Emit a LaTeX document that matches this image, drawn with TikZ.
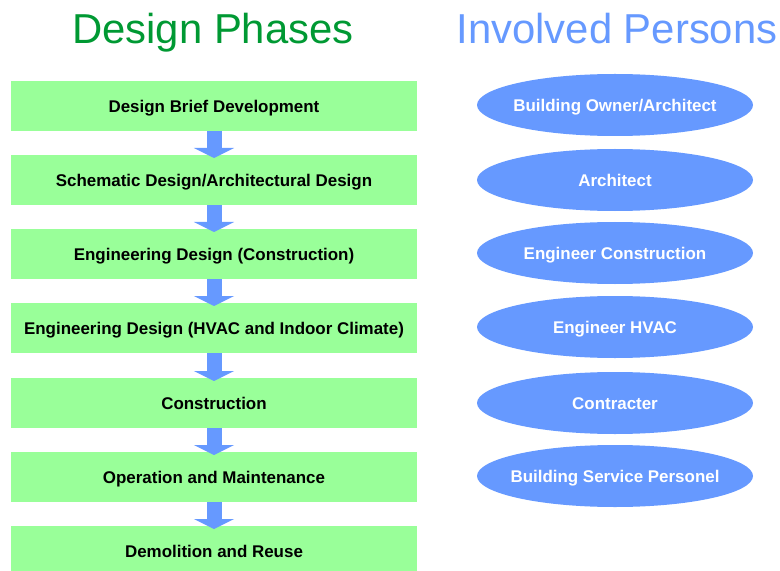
\documentclass[tikz,border=0pt]{standalone}
\usepackage{fontspec}
\setmainfont{Liberation Sans}
\usetikzlibrary{shapes.geometric,arrows.meta}
\definecolor{phasegreen}{HTML}{99FF99}
\definecolor{persblue}{HTML}{6699FF}
\definecolor{titlegreen}{HTML}{009933}
\begin{document}
\begin{tikzpicture}[x=1bp,y=-1bp,
  title/.style={anchor=base,font=\fontsize{42}{48}\selectfont},
  phase/.style={fill=phasegreen,minimum width=406bp,minimum height=50bp,inner sep=0pt,outer sep=0pt,text height=12.5bp,text depth=0pt,font=\fontsize{17}{20}\selectfont\bfseries},
  person/.style={ellipse,fill=persblue,text=white,minimum width=276bp,minimum height=62bp,inner ysep=0pt,inner xsep=-40bp,outer sep=0pt,text height=12.5bp,text depth=0pt,font=\fontsize{17}{20}\selectfont\bfseries},
  flow/.style={persblue,line width=15bp,-{Triangle[width=40bp,length=10bp]}}]
\useasboundingbox (0,0) rectangle (780,571);
\node[title,text=titlegreen] (tphase) at (213,44) {Design Phases};
\node[title,text=persblue] (tpers) at (617,44) {Involved Persons};
% design phases
\foreach \y/\n/\t in {106/1/Design Brief Development,180/2/{Schematic Design/Architectural Design},254/3/Engineering Design (Construction),328/4/Engineering Design (HVAC and Indoor Climate),403/5/Construction,477/6/Operation and Maintenance,551/7/Demolition and Reuse}
  \node[phase] (p\n) at (214,\y) {\t};
\foreach \a/\b in {1/2,2/3,3/4,4/5,5/6,6/7}
  \draw[flow] (p\a.south) -- ([yshift=-3bp]p\b.north);
% involved persons
\foreach \y/\n/\t in {105/1/{Building Owner/Architect},180/2/Architect,253/3/Engineer Construction,327/4/Engineer HVAC,403/5/Contracter,476/6/Building Service Personel}
  \node[person] (e\n) at (615,\y) {\t};
\end{tikzpicture}
\end{document}
